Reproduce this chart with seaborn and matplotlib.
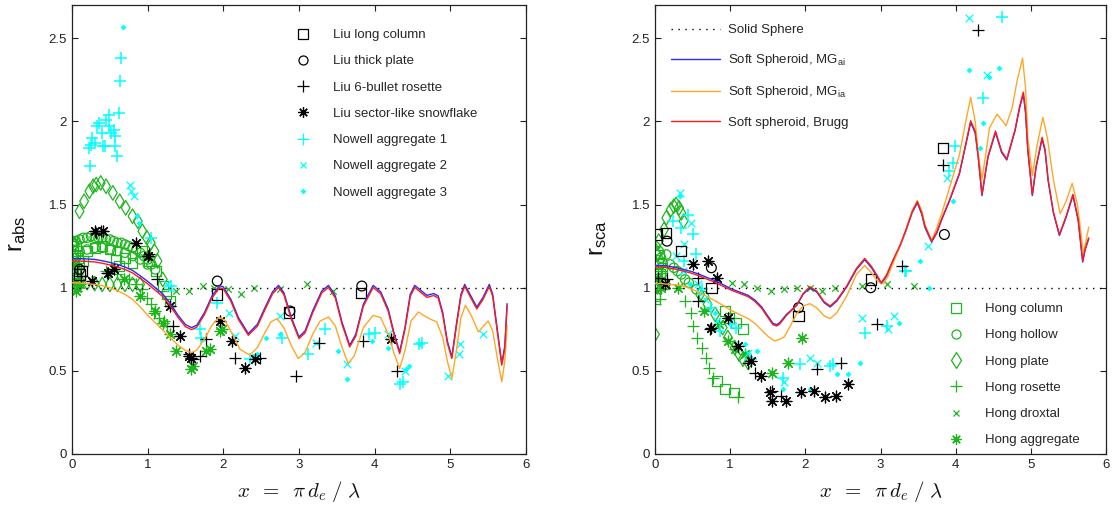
import matplotlib
matplotlib.use("Agg")
import matplotlib.pyplot as plt
from matplotlib.lines import Line2D
from matplotlib.legend_handler import HandlerTuple
import seaborn as sns

# ---------------------------------------------------------------- model curves
# absorption ratio, soft spheroid with Maxwell-Garnett (air in ice)
abs_mgai_x = [0.00, 0.10, 0.20, 0.30, 0.40, 0.50, 0.60, 0.70, 0.80, 0.90,
              1.00, 1.10, 1.20, 1.30, 1.40, 1.50, 1.58, 1.65, 1.75, 1.85,
              1.95, 2.00, 2.10, 2.20, 2.33, 2.45, 2.55, 2.65, 2.73, 2.80,
              2.90, 3.00, 3.08, 3.18, 3.30, 3.39, 3.48, 3.57, 3.67, 3.75,
              3.85, 3.98, 4.08, 4.18, 4.26, 4.33, 4.40, 4.47, 4.53, 4.62,
              4.69, 4.78, 4.84, 4.90, 4.96, 5.02, 5.08, 5.14, 5.19, 5.26,
              5.35, 5.43, 5.515, 5.56, 5.62, 5.68, 5.72, 5.75]
abs_mgai_y = [1.175, 1.175, 1.173, 1.170, 1.162, 1.152, 1.140, 1.124, 1.104, 1.072,
              1.038, 1.000, 0.962, 0.905, 0.835, 0.778, 0.760, 0.775, 0.850, 0.950,
              1.012, 1.005, 0.930, 0.820, 0.724, 0.780, 0.880, 0.975, 1.014, 0.970,
              0.820, 0.704, 0.740, 0.860, 0.980, 1.014, 0.950, 0.790, 0.654, 0.720,
              0.900, 1.014, 0.975, 0.870, 0.720, 0.614, 0.760, 0.960, 1.014, 0.980,
              0.954, 0.965, 0.950, 0.850, 0.680, 0.584, 0.780, 0.960, 1.020, 0.960,
              0.884, 0.940, 1.020, 0.960, 0.750, 0.544, 0.650, 0.904]
# absorption ratio, Bruggeman mixing (same size grid)
abs_brugg_y = [1.160, 1.160, 1.158, 1.155, 1.147, 1.137, 1.125, 1.109, 1.089, 1.057,
               1.023, 0.985, 0.947, 0.890, 0.822, 0.765, 0.748, 0.763, 0.838, 0.938,
               1.000, 0.993, 0.918, 0.808, 0.714, 0.768, 0.868, 0.963, 1.002, 0.958,
               0.808, 0.694, 0.728, 0.848, 0.968, 1.002, 0.938, 0.778, 0.644, 0.708,
               0.888, 1.002, 0.963, 0.858, 0.708, 0.604, 0.748, 0.948, 1.002, 0.968,
               0.942, 0.953, 0.938, 0.838, 0.668, 0.574, 0.768, 0.948, 1.008, 0.948,
               0.872, 0.928, 1.008, 0.948, 0.738, 0.534, 0.638, 0.892]
# absorption ratio, Maxwell-Garnett (ice in air)
abs_mgia_x = [0.00, 0.10, 0.20, 0.30, 0.40, 0.50, 0.60, 0.70, 0.80, 0.90,
              1.00, 1.10, 1.20, 1.30, 1.40, 1.50, 1.58, 1.65, 1.75, 1.85,
              1.94, 2.02, 2.12, 2.22, 2.35, 2.45, 2.55, 2.63, 2.71, 2.80,
              2.90, 2.99, 3.08, 3.18, 3.28, 3.39, 3.48, 3.57, 3.65, 3.73,
              3.85, 3.98, 4.08, 4.18, 4.26, 4.33, 4.40, 4.48, 4.58, 4.66,
              4.74, 4.82, 4.90, 4.96, 5.02, 5.08, 5.14, 5.20, 5.28, 5.37,
              5.44, 5.50, 5.56, 5.62, 5.68, 5.72, 5.75]
abs_mgia_y = [1.030, 1.028, 1.024, 1.020, 1.012, 1.000, 0.982, 0.960, 0.930, 0.885,
              0.835, 0.790, 0.745, 0.700, 0.655, 0.622, 0.610, 0.625, 0.690, 0.775,
              0.822, 0.805, 0.720, 0.630, 0.594, 0.640, 0.730, 0.795, 0.814, 0.760,
              0.650, 0.574, 0.610, 0.720, 0.800, 0.824, 0.770, 0.640, 0.544, 0.590,
              0.760, 0.834, 0.820, 0.720, 0.600, 0.514, 0.620, 0.800, 0.854, 0.830,
              0.810, 0.794, 0.700, 0.560, 0.454, 0.620, 0.820, 0.894, 0.830, 0.734,
              0.770, 0.800, 0.740, 0.580, 0.434, 0.560, 0.774]

# scattering ratio, Maxwell-Garnett (air in ice)
sca_mgai_x = [0.00, 0.10, 0.20, 0.35, 0.50, 0.57, 0.70, 0.79, 0.90, 1.01,
              1.12, 1.24, 1.33, 1.42, 1.50, 1.57, 1.62, 1.66, 1.75, 1.885,
              1.97, 2.06, 2.15, 2.25, 2.33, 2.42, 2.55, 2.68, 2.79, 2.88,
              2.95, 3.01, 3.08, 3.17, 3.26, 3.34, 3.42, 3.49, 3.55, 3.59,
              3.68, 3.75, 3.81, 3.92, 4.05, 4.13, 4.20, 4.26, 4.30, 4.35,
              4.40, 4.43, 4.53, 4.61, 4.68, 4.79, 4.85, 4.90, 4.93, 4.96,
              5.02, 5.07, 5.15, 5.19, 5.23, 5.30, 5.38, 5.47, 5.56, 5.63,
              5.69, 5.72, 5.77]
sca_mgai_y = [1.134, 1.134, 1.128, 1.114, 1.095, 1.084, 1.060, 1.044, 1.020, 0.994,
              0.975, 0.954, 0.925, 0.884, 0.830, 0.785, 0.778, 0.790, 0.840, 0.894,
              0.960, 1.000, 0.975, 0.910, 0.884, 0.920, 1.004, 1.110, 1.168, 1.120,
              1.070, 1.024, 1.070, 1.164, 1.250, 1.344, 1.450, 1.510, 1.440, 1.364,
              1.274, 1.330, 1.404, 1.524, 1.684, 1.850, 1.994, 1.930, 1.784, 1.554,
              1.700, 1.784, 1.934, 1.814, 1.768, 1.944, 2.080, 2.164, 2.050, 1.824,
              1.554, 1.724, 1.894, 1.820, 1.644, 1.450, 1.314, 1.424, 1.554, 1.404,
              1.154, 1.224, 1.294]
# scattering ratio, Bruggeman mixing (same size grid)
sca_brugg_y = [1.124, 1.124, 1.118, 1.104, 1.085, 1.074, 1.050, 1.034, 1.010, 0.986,
               0.967, 0.946, 0.917, 0.876, 0.822, 0.777, 0.770, 0.782, 0.834, 0.894,
               0.964, 1.006, 0.981, 0.916, 0.890, 0.926, 1.010, 1.116, 1.176, 1.128,
               1.078, 1.030, 1.076, 1.170, 1.256, 1.350, 1.456, 1.518, 1.448, 1.372,
               1.280, 1.336, 1.410, 1.530, 1.690, 1.856, 2.004, 1.940, 1.792, 1.560,
               1.706, 1.790, 1.942, 1.822, 1.774, 1.950, 2.088, 2.176, 2.060, 1.832,
               1.560, 1.730, 1.904, 1.830, 1.650, 1.456, 1.320, 1.430, 1.562, 1.412,
               1.160, 1.230, 1.300]
# scattering ratio, Maxwell-Garnett (ice in air)
sca_mgia_x = [0.00, 0.10, 0.20, 0.35, 0.50, 0.57, 0.70, 0.79, 0.90, 1.01,
              1.12, 1.24, 1.33, 1.42, 1.50, 1.59, 1.66, 1.72, 1.80, 1.885,
              1.97, 2.06, 2.15, 2.25, 2.33, 2.42, 2.55, 2.68, 2.79, 2.88,
              2.97, 3.04, 3.10, 3.17, 3.26, 3.34, 3.42, 3.49, 3.55, 3.59,
              3.68, 3.75, 3.81, 3.92, 4.05, 4.13, 4.20, 4.26, 4.30, 4.35,
              4.40, 4.45, 4.55, 4.61, 4.67, 4.75, 4.82, 4.89, 4.93, 4.96,
              5.02, 5.08, 5.16, 5.22, 5.30, 5.39, 5.47, 5.55, 5.62, 5.70,
              5.77]
sca_mgia_y = [1.025, 1.024, 1.020, 1.014, 0.990, 0.974, 0.945, 0.924, 0.895, 0.864,
              0.840, 0.814, 0.785, 0.744, 0.708, 0.680, 0.690, 0.704, 0.770, 0.844,
              0.890, 0.904, 0.880, 0.830, 0.814, 0.850, 0.950, 1.080, 1.134, 1.090,
              1.035, 1.024, 1.070, 1.150, 1.250, 1.350, 1.460, 1.524, 1.460, 1.380,
              1.284, 1.360, 1.440, 1.604, 1.800, 1.990, 2.144, 2.000, 1.800, 1.654,
              1.800, 1.960, 2.044, 2.010, 1.974, 2.080, 2.250, 2.380, 2.200, 1.900,
              1.674, 1.850, 2.024, 1.900, 1.650, 1.444, 1.520, 1.628, 1.500, 1.204,
              1.364]

# solid sphere reference
sphere_x = [0.0, 6.0]
sphere_y = [1.0, 1.0]

# ------------------------------------------------------- reference particles
# Liu (2008) database
liu_column_abs_x = [0.10, 0.13, 1.92, 2.87, 3.82]
liu_column_abs_y = [1.08, 1.10, 0.96, 0.85, 0.97]
liu_plate_abs_x = [0.10, 1.92, 2.88, 3.83]
liu_plate_abs_y = [1.11, 1.04, 0.86, 1.01]
liu_rosette_abs_x = [0.12, 0.32, 0.38, 0.46, 1.02, 1.12, 1.33, 1.55, 1.60, 1.69,
                     1.77, 2.16, 2.49, 2.96, 3.27, 3.84, 4.30]
liu_rosette_abs_y = [1.07, 1.33, 1.34, 1.09, 1.20, 1.05, 0.77, 0.60, 0.57, 0.59,
                     0.69, 0.58, 0.58, 0.47, 0.67, 0.68, 0.50]
liu_flake_abs_x = [0.26, 0.30, 0.41, 0.47, 0.56, 0.84, 1.00, 1.29, 1.43, 1.55,
                   1.57, 1.95, 2.11, 2.28, 2.42, 4.22]
liu_flake_abs_y = [1.04, 1.34, 1.34, 1.09, 1.11, 1.27, 1.19, 0.89, 0.71, 0.59,
                   0.58, 0.80, 0.68, 0.52, 0.57, 0.69]

liu_column_sca_x = [0.02, 0.15, 0.35, 0.75, 1.91, 2.87, 3.83]
liu_column_sca_y = [1.32, 1.33, 1.22, 1.00, 0.83, 1.05, 1.84]
liu_plate_sca_x = [0.16, 0.75, 1.91, 2.87, 3.85]
liu_plate_sca_y = [1.28, 1.12, 0.88, 1.00, 1.32]
liu_rosette_sca_x = [0.04, 0.16, 0.57, 0.57, 0.73, 1.24, 1.33, 1.55, 1.68, 2.16,
                     2.48, 2.95, 3.28, 3.83, 4.30]
liu_rosette_sca_y = [1.06, 1.05, 1.06, 0.92, 0.75, 0.55, 0.49, 0.38, 0.35, 0.51,
                     0.55, 0.78, 1.13, 1.74, 2.55]
liu_flake_sca_x = [0.13, 0.51, 0.70, 0.82, 0.75, 0.97, 1.10, 1.28, 1.41, 1.53,
                   1.55, 1.74, 1.94, 2.11, 2.26, 2.41, 2.57]
liu_flake_sca_y = [1.02, 1.14, 1.16, 1.06, 0.76, 0.82, 0.65, 0.56, 0.47, 0.37,
                   0.32, 0.32, 0.37, 0.38, 0.34, 0.35, 0.42]

# Nowell et al. aggregates
nowell1_abs_x = [0.22, 0.24, 0.25, 0.27, 0.31, 0.33, 0.36, 0.40, 0.405, 0.44,
                 0.45, 0.485, 0.49, 0.515, 0.56, 0.572, 0.572, 0.59, 0.617, 0.634,
                 0.65, 1.04, 1.31, 1.69, 1.70, 1.91, 2.35, 2.77, 3.12, 3.35,
                 3.92, 4.00, 4.33, 4.38, 4.58, 4.62]
nowell1_abs_y = [1.84, 1.73, 1.86, 1.90, 1.87, 1.97, 1.99, 1.93, 1.85, 1.85,
                 2.01, 2.04, 1.97, 1.93, 1.95, 1.91, 1.85, 1.79, 2.05, 2.24,
                 2.38, 1.30, 1.01, 0.75, 0.70, 0.91, 0.57, 0.70, 0.60, 0.75,
                 0.72, 0.73, 0.42, 0.43, 0.66, 0.67]
nowell2_abs_x = [0.76, 0.78, 0.82, 1.25, 1.29, 2.07, 2.15, 2.75, 3.23, 3.63,
                 4.18, 4.40, 4.97, 5.11, 5.13, 5.43]
nowell2_abs_y = [1.62, 1.58, 1.55, 1.02, 1.00, 0.85, 0.71, 0.83, 0.67, 0.54,
                 0.72, 0.50, 0.47, 0.60, 0.66, 0.72]
nowell3_abs_x = [0.68, 0.86, 0.89, 1.73, 2.39, 2.44, 2.57, 2.75, 3.52, 3.63,
                 3.96, 4.18, 4.42, 4.45, 4.60]
nowell3_abs_y = [2.57, 1.43, 1.39, 0.69, 0.59, 0.60, 0.70, 0.72, 0.62, 0.45,
                 0.68, 0.64, 0.51, 0.53, 0.66]

nowell1_sca_x = [0.24, 0.35, 0.44, 0.50, 0.39, 0.55, 0.62, 0.75, 0.86, 1.08,
                 1.28, 1.70, 1.93, 2.33, 2.37, 2.79, 3.09, 3.32, 3.34, 3.91,
                 3.97, 3.99, 4.37, 4.62]
nowell1_sca_y = [1.40, 1.36, 1.44, 1.32, 1.16, 1.20, 0.99, 0.88, 0.74, 0.76,
                 0.57, 0.46, 0.54, 0.53, 0.54, 0.73, 0.77, 1.10, 1.10, 1.70,
                 1.75, 1.85, 2.14, 2.63]
nowell2_sca_x = [0.33, 0.48, 0.28, 0.39, 0.37, 0.57, 0.66, 0.82, 1.01, 1.24,
                 1.71, 2.06, 2.15, 2.76, 3.10, 3.18, 3.63, 3.88, 4.18, 4.42]
nowell2_sca_y = [1.57, 1.39, 1.19, 1.26, 1.10, 1.02, 0.93, 0.80, 0.80, 0.61,
                 0.43, 0.58, 0.55, 0.82, 0.75, 0.83, 1.25, 1.66, 2.62, 2.28]
nowell3_sca_x = [0.33, 0.46, 0.60, 0.80, 1.00, 1.20, 1.36, 1.70, 2.06, 2.42,
                 2.57, 2.73, 3.25, 3.52, 3.64, 3.97, 4.32, 4.36, 4.18, 4.45,
                 4.57]
nowell3_sca_y = [1.55, 1.02, 0.97, 0.85, 0.78, 0.66, 0.62, 0.39, 0.39, 0.48,
                 0.48, 0.55, 0.79, 1.16, 1.00, 1.52, 1.84, 1.99, 2.31, 2.27,
                 2.32]

# Hong (2007) database
hong_column_abs_x = [0.00, 0.01, 0.02, 0.03, 0.04, 0.05, 0.06, 0.08, 0.00, 0.02,
                     0.04, 0.06, 0.10, 0.15, 0.20, 0.30, 0.40, 0.50, 0.58, 0.62,
                     0.70, 0.80, 0.93, 1.02, 1.11, 1.20, 1.25, 1.30]
hong_column_abs_y = [1.00, 1.05, 1.10, 1.15, 1.20, 1.25, 1.12, 1.18, 1.28, 1.22,
                     1.08, 1.03, 1.15, 1.16, 1.22, 1.24, 1.25, 1.23, 1.17, 1.13,
                     1.18, 1.15, 1.22, 1.16, 1.10, 1.01, 0.96, 0.92]
hong_hollow_abs_x = [0.00, 0.05, 0.10, 0.15, 0.20, 0.25, 0.30, 0.35, 0.40, 0.45,
                     0.50, 0.55, 0.60, 0.65, 0.70, 0.75, 0.80, 0.85, 0.90, 0.95,
                     1.00, 1.05, 1.10, 0.02, 0.10, 0.20, 0.30, 0.40, 0.50, 0.60,
                     0.70, 0.80, 0.90, 1.00]
hong_hollow_abs_y = [1.27, 1.28, 1.29, 1.30, 1.30, 1.31, 1.30, 1.30, 1.30, 1.29,
                     1.29, 1.28, 1.27, 1.27, 1.26, 1.25, 1.24, 1.23, 1.21, 1.19,
                     1.17, 1.14, 1.11, 1.20, 1.22, 1.23, 1.24, 1.24, 1.23, 1.22,
                     1.21, 1.19, 1.17, 1.14]
hong_plate_abs_x = [0.10, 0.16, 0.23, 0.28, 0.32, 0.38, 0.45, 0.54, 0.63, 0.71,
                    0.80, 0.87, 0.93, 0.99, 1.04, 1.09, 1.13, 1.20, 0.12, 0.20,
                    0.30, 0.40, 0.50, 0.60, 0.70, 0.80, 0.90, 0.00, 0.02, 0.04]
hong_plate_abs_y = [1.46, 1.52, 1.58, 1.61, 1.62, 1.63, 1.61, 1.57, 1.52, 1.48,
                    1.43, 1.40, 1.34, 1.30, 1.27, 1.22, 1.16, 1.05, 1.03, 1.03,
                    1.025, 1.02, 1.02, 1.02, 1.02, 1.02, 1.02, 1.10, 1.18, 1.26]
hong_rosette_abs_x = [0.00, 0.03, 0.06, 0.45, 0.60, 0.75, 0.85, 0.93, 0.99, 1.05,
                      1.09, 1.15, 1.21, 1.26]
hong_rosette_abs_y = [1.05, 1.12, 1.08, 1.10, 1.08, 1.05, 1.02, 0.99, 0.94, 0.90,
                      0.85, 0.82, 0.80, 0.77]
hong_droxtal_abs_x = [0.02, 0.05, 0.08, 1.37, 1.55, 1.73, 1.88, 2.06, 2.24, 2.40,
                      2.75, 3.10, 3.45]
hong_droxtal_abs_y = [1.02, 1.15, 0.99, 0.98, 0.98, 1.01, 1.00, 0.99, 0.96, 1.00,
                      0.99, 1.02, 0.98]
hong_aggr_abs_x = [0.02, 0.05, 0.10, 0.69, 0.90, 1.10, 1.20, 1.29, 1.37, 1.57,
                   1.60, 1.77, 1.82, 1.95, 1.98]
hong_aggr_abs_y = [1.03, 0.98, 1.02, 1.05, 0.95, 0.86, 0.79, 0.72, 0.62, 0.51,
                   0.53, 0.62, 0.63, 0.74, 0.75]

hong_column_sca_x = [0.00, 0.01, 0.02, 0.03, 0.04, 0.05, 0.07, 0.10, 0.12, 0.93,
                     0.99, 1.08, 1.17, 0.82, 0.93, 1.05]
hong_column_sca_y = [0.95, 1.00, 1.05, 1.10, 1.15, 1.20, 1.08, 1.12, 1.02, 0.86,
                     0.82, 0.79, 0.75, 0.44, 0.39, 0.37]
hong_hollow_sca_x = [0.00, 0.02, 0.05, 0.08, 0.10, 0.15, 0.20, 0.25, 0.30, 0.35,
                     0.40, 0.45, 0.55, 0.65]
hong_hollow_sca_y = [1.25, 1.20, 1.22, 1.18, 1.15, 1.20, 1.14, 1.12, 1.10, 1.08,
                     1.05, 1.03, 0.99, 0.95]
hong_plate_sca_x = [0.00, 0.12, 0.15, 0.21, 0.25, 0.28, 0.32, 0.35, 0.38, 0.02,
                    0.05, 0.60, 0.70, 0.80, 0.90, 0.97, 1.06, 1.12, 1.17, 1.24]
hong_plate_sca_y = [0.72, 1.35, 1.42, 1.47, 1.49, 1.50, 1.48, 1.45, 1.40, 1.20,
                    1.28, 0.96, 0.90, 0.84, 0.76, 0.70, 0.64, 0.60, 0.57, 0.55]
hong_rosette_sca_x = [0.00, 0.02, 0.04, 0.06, 0.08, 0.40, 0.48, 0.51, 0.56, 0.63,
                      0.68, 0.72, 0.77, 1.10]
hong_rosette_sca_y = [0.90, 1.00, 1.05, 0.93, 1.10, 0.92, 0.85, 0.77, 0.70, 0.64,
                      0.58, 0.52, 0.46, 0.34]
hong_droxtal_sca_x = [0.02, 0.06, 0.10, 1.03, 1.19, 1.36, 1.54, 1.71, 1.89, 2.06,
                      2.22, 2.40, 2.76, 3.09, 3.44]
hong_droxtal_sca_y = [0.98, 1.02, 1.06, 1.03, 1.02, 1.00, 0.98, 0.99, 1.00, 1.00,
                      0.98, 1.00, 1.01, 1.02, 1.01]
hong_aggr_sca_x = [0.03, 0.08, 0.30, 0.65, 0.85, 0.97, 1.06, 1.20, 1.55, 1.77,
                   1.95]
hong_aggr_sca_y = [1.05, 1.00, 1.00, 0.86, 0.78, 0.68, 0.63, 0.60, 0.49, 0.55,
                   0.70]

# ---------------------------------------------------------------- styling
BLACK = "#000000"
CYAN = "#00ffff"
GREEN = "#1fb51f"
BLUE = "#2a2aff"
ORANGE = "#ffa726"
RED = "#ff1a1a"
ASTERISK = (8, 2, 0)

sns.set_theme(style="ticks")
plt.rcParams.update({
    "font.family": ["Liberation Sans", "DejaVu Sans"],
    "font.size": 9.5,
    "xtick.direction": "in",
    "ytick.direction": "in",
    "xtick.top": True,
    "ytick.right": True,
    "xtick.major.size": 4,
    "ytick.major.size": 4,
    "xtick.major.width": 0.8,
    "ytick.major.width": 0.8,
    "xtick.color": "#222222",
    "ytick.color": "#222222",
    "xtick.labelsize": 9.5,
    "ytick.labelsize": 9.5,
    "axes.edgecolor": "#222222",
    "axes.linewidth": 0.9,
})

fig = plt.figure(figsize=(11.13, 5.16), dpi=100)
ax_abs = fig.add_axes([72 / 1113, 1 - 454 / 516, 454 / 1113, 449 / 516])
ax_sca = fig.add_axes([655 / 1113, 1 - 454 / 516, 451 / 1113, 449 / 516])


def points(ax, x, y, marker, color, size, filled=False, lw=0.9):
    if marker in ("+", "x") or isinstance(marker, tuple):
        sns.scatterplot(x=x, y=y, ax=ax, marker=marker, color=color, s=size,
                        linewidth=lw, zorder=2)
    else:
        sns.scatterplot(x=x, y=y, ax=ax, marker=marker, s=size,
                        color=color, facecolor=color if filled else "none",
                        edgecolor=color, linewidth=lw, zorder=2)


def star_points(ax, x, y, color):
    points(ax, x, y, ASTERISK, color, 60, lw=0.9)
    sns.scatterplot(x=x, y=y, ax=ax, marker="o", s=9, color=color,
                    edgecolor=color, linewidth=0, zorder=2)


def draw_panel(ax, d):
    # Hong particles
    points(ax, d["hc"][0], d["hc"][1], "s", GREEN, 50)
    points(ax, d["hh"][0], d["hh"][1], "o", GREEN, 45)
    points(ax, d["hp"][0], d["hp"][1], "d", GREEN, 55)
    points(ax, d["hr"][0], d["hr"][1], "+", GREEN, 70)
    points(ax, d["hd"][0], d["hd"][1], "x", GREEN, 22)
    star_points(ax, d["ha"][0], d["ha"][1], GREEN)
    # Nowell aggregates
    points(ax, d["n1"][0], d["n1"][1], "+", CYAN, 75, lw=1.1)
    points(ax, d["n2"][0], d["n2"][1], "x", CYAN, 30)
    points(ax, d["n3"][0], d["n3"][1], "D", CYAN, 9, filled=True, lw=0)
    # Liu particles
    points(ax, d["lc"][0], d["lc"][1], "s", BLACK, 55)
    points(ax, d["lp"][0], d["lp"][1], "o", BLACK, 50)
    points(ax, d["lr"][0], d["lr"][1], "+", BLACK, 75)
    star_points(ax, d["lf"][0], d["lf"][1], BLACK)
    # model curves
    sns.lineplot(x=sphere_x, y=sphere_y, ax=ax, color=BLACK, linewidth=1.0,
                 linestyle=(0, (1, 4)), zorder=3)
    sns.lineplot(x=d["mgai"][0], y=d["mgai"][1], ax=ax, color=BLUE,
                 linewidth=1.0, zorder=3, sort=False, estimator=None)
    sns.lineplot(x=d["mgia"][0], y=d["mgia"][1], ax=ax, color=ORANGE,
                 linewidth=1.0, zorder=3, sort=False, estimator=None)
    sns.lineplot(x=d["brugg"][0], y=d["brugg"][1], ax=ax, color=RED,
                 linewidth=1.0, zorder=4, sort=False, estimator=None)

    ax.set_xlim(0, 6)
    ax.set_ylim(0, 2.7)
    ax.set_xticks([0, 1, 2, 3, 4, 5, 6])
    ax.set_yticks([0, 0.5, 1, 1.5, 2, 2.5])
    ax.set_yticklabels(["0", "0.5", "1", "1.5", "2", "2.5"])
    for s in ax.spines.values():
        s.set_visible(True)
    ax.set_xlabel(r"$x\;\;=\;\;\pi\,d_e\;/\;\lambda$", fontsize=15,
                  math_fontfamily="cm", color="#111111")
    ax.xaxis.set_label_coords(0.5, -0.056)


draw_panel(ax_abs, {
    "hc": (hong_column_abs_x, hong_column_abs_y),
    "hh": (hong_hollow_abs_x, hong_hollow_abs_y),
    "hp": (hong_plate_abs_x, hong_plate_abs_y),
    "hr": (hong_rosette_abs_x, hong_rosette_abs_y),
    "hd": (hong_droxtal_abs_x, hong_droxtal_abs_y),
    "ha": (hong_aggr_abs_x, hong_aggr_abs_y),
    "n1": (nowell1_abs_x, nowell1_abs_y),
    "n2": (nowell2_abs_x, nowell2_abs_y),
    "n3": (nowell3_abs_x, nowell3_abs_y),
    "lc": (liu_column_abs_x, liu_column_abs_y),
    "lp": (liu_plate_abs_x, liu_plate_abs_y),
    "lr": (liu_rosette_abs_x, liu_rosette_abs_y),
    "lf": (liu_flake_abs_x, liu_flake_abs_y),
    "mgai": (abs_mgai_x, abs_mgai_y),
    "mgia": (abs_mgia_x, abs_mgia_y),
    "brugg": (abs_mgai_x, abs_brugg_y),
})
draw_panel(ax_sca, {
    "hc": (hong_column_sca_x, hong_column_sca_y),
    "hh": (hong_hollow_sca_x, hong_hollow_sca_y),
    "hp": (hong_plate_sca_x, hong_plate_sca_y),
    "hr": (hong_rosette_sca_x, hong_rosette_sca_y),
    "hd": (hong_droxtal_sca_x, hong_droxtal_sca_y),
    "ha": (hong_aggr_sca_x, hong_aggr_sca_y),
    "n1": (nowell1_sca_x, nowell1_sca_y),
    "n2": (nowell2_sca_x, nowell2_sca_y),
    "n3": (nowell3_sca_x, nowell3_sca_y),
    "lc": (liu_column_sca_x, liu_column_sca_y),
    "lp": (liu_plate_sca_x, liu_plate_sca_y),
    "lr": (liu_rosette_sca_x, liu_rosette_sca_y),
    "lf": (liu_flake_sca_x, liu_flake_sca_y),
    "mgai": (sca_mgai_x, sca_mgai_y),
    "mgia": (sca_mgia_x, sca_mgia_y),
    "brugg": (sca_mgai_x, sca_brugg_y),
})

ax_abs.set_ylabel(r"$\mathregular{r_{abs}}$", fontsize=17, color="#111111")
ax_sca.set_ylabel(r"$\mathregular{r_{sca}}$", fontsize=17, color="#111111")
ax_abs.yaxis.set_label_coords(-0.098, 0.49)
ax_sca.yaxis.set_label_coords(-0.102, 0.48)


# ---------------------------------------------------------------- legends
def mk(marker, color, ms, filled=False, mew=0.9):
    return Line2D([], [], linestyle="None", marker=marker, markersize=ms,
                  markeredgecolor=color, markeredgewidth=mew,
                  markerfacecolor=color if filled else "none")


def star(color):
    return (mk(ASTERISK, color, 7.5), mk("o", color, 3, filled=True, mew=0))


overlay = {tuple: HandlerTuple(ndivide=1, pad=0)}

leg_abs = ax_abs.legend(
    handles=[mk("s", BLACK, 7), mk("o", BLACK, 6.5), mk("+", BLACK, 8.5),
             star(BLACK), mk("+", CYAN, 8.5), mk("x", CYAN, 5),
             mk("D", CYAN, 3, filled=True, mew=0)],
    labels=["Liu long column", "Liu thick plate", "Liu 6-bullet rosette",
            "Liu sector-like snowflake", "Nowell aggregate 1",
            "Nowell aggregate 2", "Nowell aggregate 3"],
    handler_map=overlay,
    loc="upper left", bbox_to_anchor=(290 / 1113, 1 - 29 / 516),
    bbox_transform=fig.transFigure, frameon=False, borderpad=0,
    borderaxespad=0, handlelength=2.0, handletextpad=1.25,
    labelspacing=1.06, fontsize=9.5)

leg_lines = ax_sca.legend(
    handles=[Line2D([], [], color=BLACK, lw=1.0, linestyle=(0, (1, 4))),
             Line2D([], [], color=BLUE, lw=1.0),
             Line2D([], [], color=ORANGE, lw=1.0),
             Line2D([], [], color=RED, lw=1.0)],
    labels=["Solid Sphere", r"Soft Spheroid, MG$_{\mathregular{ai}}$",
            r"Soft Spheroid, MG$_{\mathregular{ia}}$", "Soft spheroid, Brugg"],
    loc="upper left", bbox_to_anchor=(671 / 1113, 1 - 24 / 516),
    bbox_transform=fig.transFigure, frameon=False, borderpad=0,
    borderaxespad=0, handlelength=3.7, handletextpad=0.6,
    labelspacing=1.22, fontsize=9.5)
ax_sca.add_artist(leg_lines)

ax_sca.legend(
    handles=[mk("s", GREEN, 7), mk("o", GREEN, 6.5), mk("d", GREEN, 8),
             mk("+", GREEN, 8.5), mk("x", GREEN, 4.5), star(GREEN)],
    labels=["Hong column", "Hong hollow", "Hong plate", "Hong rosette",
            "Hong droxtal", "Hong aggregate"],
    handler_map=overlay,
    loc="upper left", bbox_to_anchor=(943 / 1113, 1 - 303 / 516),
    bbox_transform=fig.transFigure, frameon=False, borderpad=0,
    borderaxespad=0, handlelength=2.0, handletextpad=1.2,
    labelspacing=1.06, fontsize=9.5)

fig.savefig("out.png", dpi=100, facecolor="white")
